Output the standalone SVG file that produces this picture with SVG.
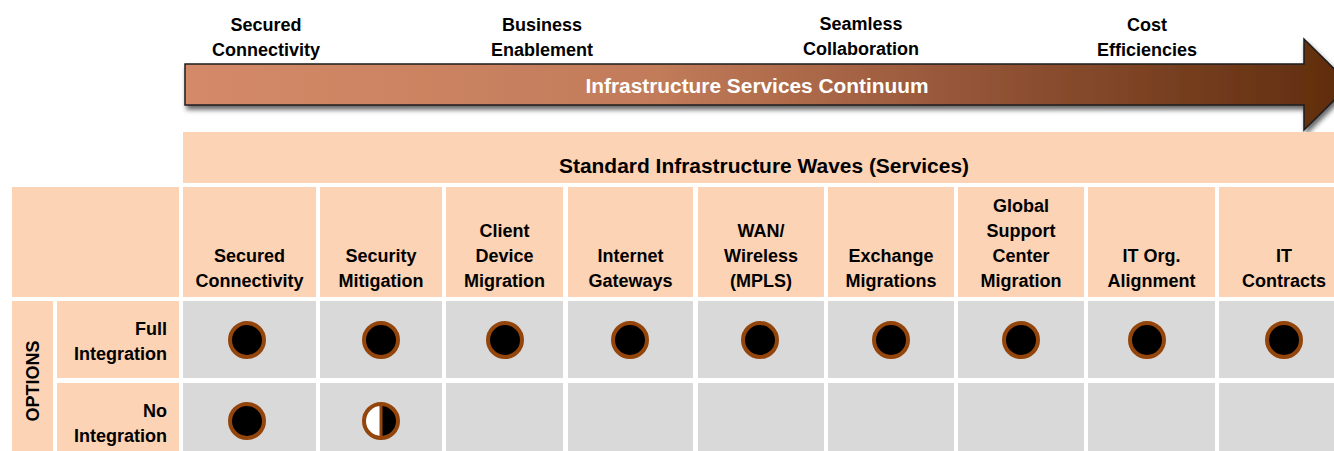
<svg xmlns="http://www.w3.org/2000/svg" width="1334" height="451" viewBox="0 0 1334 451">
  <style>
    text { font-family: "Liberation Sans", Arial, sans-serif; font-weight: bold; font-size: 18px; fill: #000; }
    .c { text-anchor: middle; }
    .r { text-anchor: end; }
    .w { fill: #fff; }
    .big { font-size: 20px; }
    .peach { fill: #FDD3B5; }
    .gray { fill: #D9D9D9; }
    .dot { fill: #000; stroke: #94450C; stroke-width: 4; }
  </style>
  <defs>
    <linearGradient id="arrowGrad" gradientUnits="userSpaceOnUse" x1="185" y1="0" x2="1350" y2="0">
      <stop offset="0" stop-color="#D48A68"/>
      <stop offset="0.4" stop-color="#C27C5A"/>
      <stop offset="0.65" stop-color="#98583A"/>
      <stop offset="1" stop-color="#5E2C0C"/>
    </linearGradient>
    <filter id="shadow" x="-5%" y="-30%" width="110%" height="160%">
      <feGaussianBlur in="SourceAlpha" stdDeviation="2.5"/>
      <feOffset dx="2" dy="4" result="b"/>
      <feComponentTransfer><feFuncA type="linear" slope="0.6"/></feComponentTransfer>
      <feMerge><feMergeNode/><feMergeNode in="SourceGraphic"/></feMerge>
    </filter>
  </defs>

  <!-- Continuum arrow -->
  <g id="continuum-arrow">
    <path d="M185,64 H1304 V39 L1350,84.5 L1304,130 V105 H185 Z" fill="url(#arrowGrad)" stroke="#1E1E1E" stroke-width="1.5" filter="url(#shadow)"/>
    <text class="c w big" x="757" y="93" textLength="343" lengthAdjust="spacingAndGlyphs">Infrastructure Services Continuum</text>
  </g>

  <!-- Top labels -->
  <g id="label-secured">
    <text class="c" x="266" y="31">Secured</text>
    <text class="c" x="266" y="56">Connectivity</text>
  </g>
  <g id="label-business">
    <text class="c" x="542" y="31">Business</text>
    <text class="c" x="542" y="56">Enablement</text>
  </g>
  <g id="label-seamless">
    <text class="c" x="861" y="30">Seamless</text>
    <text class="c" x="861" y="55">Collaboration</text>
  </g>
  <g id="label-cost">
    <text class="c" x="1147" y="31">Cost</text>
    <text class="c" x="1147" y="56">Efficiencies</text>
  </g>

  <!-- Header band -->
  <g id="waves-header">
    <rect class="peach" x="183" y="132" width="1151" height="51"/>
    <text class="c big" x="764" y="173" textLength="410" lengthAdjust="spacingAndGlyphs">Standard Infrastructure Waves (Services)</text>
  </g>

  <!-- Left header blank cell -->
  <g id="corner-cell">
    <rect class="peach" x="12" y="187" width="167" height="110"/>
  </g>

  <!-- Column headers -->
  <g id="col1">
    <rect class="peach" x="183" y="187" width="133" height="110"/>
    <text class="c" x="249.5" y="262">Secured</text>
    <text class="c" x="249.5" y="287">Connectivity</text>
  </g>
  <g id="col2">
    <rect class="peach" x="320" y="187" width="122" height="110"/>
    <text class="c" x="381" y="262">Security</text>
    <text class="c" x="381" y="287">Mitigation</text>
  </g>
  <g id="col3">
    <rect class="peach" x="446" y="187" width="117" height="110"/>
    <text class="c" x="504.5" y="237">Client</text>
    <text class="c" x="504.5" y="262">Device</text>
    <text class="c" x="504.5" y="287">Migration</text>
  </g>
  <g id="col4">
    <rect class="peach" x="568" y="187" width="125" height="110"/>
    <text class="c" x="630.5" y="262">Internet</text>
    <text class="c" x="630.5" y="287">Gateways</text>
  </g>
  <g id="col5">
    <rect class="peach" x="698" y="187" width="126" height="110"/>
    <text class="c" x="761" y="237">WAN/</text>
    <text class="c" x="761" y="262">Wireless</text>
    <text class="c" x="761" y="287">(MPLS)</text>
  </g>
  <g id="col6">
    <rect class="peach" x="828" y="187" width="126" height="110"/>
    <text class="c" x="891" y="262">Exchange</text>
    <text class="c" x="891" y="287">Migrations</text>
  </g>
  <g id="col7">
    <rect class="peach" x="958" y="187" width="126" height="110"/>
    <text class="c" x="1021" y="212">Global</text>
    <text class="c" x="1021" y="237">Support</text>
    <text class="c" x="1021" y="262">Center</text>
    <text class="c" x="1021" y="287">Migration</text>
  </g>
  <g id="col8">
    <rect class="peach" x="1088" y="187" width="127" height="110"/>
    <text class="c" x="1151.5" y="262">IT Org.</text>
    <text class="c" x="1151.5" y="287">Alignment</text>
  </g>
  <g id="col9">
    <rect class="peach" x="1219" y="187" width="130" height="110"/>
    <text class="c" x="1284" y="262">IT</text>
    <text class="c" x="1284" y="287">Contracts</text>
  </g>

  <!-- Options label -->
  <g id="options">
    <rect class="peach" x="12" y="301" width="41" height="150"/>
    <text class="c" transform="translate(39,381) rotate(-90)" x="0" y="0">OPTIONS</text>
  </g>

  <!-- Row labels -->
  <g id="row-full">
    <rect class="peach" x="57" y="301" width="122" height="77"/>
    <text class="r" x="167" y="335">Full</text>
    <text class="r" x="167" y="360">Integration</text>
  </g>
  <g id="row-no">
    <rect class="peach" x="57" y="383" width="122" height="68"/>
    <text class="r" x="167" y="417">No</text>
    <text class="r" x="167" y="442">Integration</text>
  </g>

  <!-- Grid cells -->
  <g id="cells">
    <rect class="gray" x="183" y="301" width="133" height="77"/>
    <rect class="gray" x="320" y="301" width="122" height="77"/>
    <rect class="gray" x="446" y="301" width="117" height="77"/>
    <rect class="gray" x="568" y="301" width="125" height="77"/>
    <rect class="gray" x="698" y="301" width="126" height="77"/>
    <rect class="gray" x="828" y="301" width="126" height="77"/>
    <rect class="gray" x="958" y="301" width="126" height="77"/>
    <rect class="gray" x="1088" y="301" width="127" height="77"/>
    <rect class="gray" x="1219" y="301" width="130" height="77"/>
    <rect class="gray" x="183" y="383" width="133" height="68"/>
    <rect class="gray" x="320" y="383" width="122" height="68"/>
    <rect class="gray" x="446" y="383" width="117" height="68"/>
    <rect class="gray" x="568" y="383" width="125" height="68"/>
    <rect class="gray" x="698" y="383" width="126" height="68"/>
    <rect class="gray" x="828" y="383" width="126" height="68"/>
    <rect class="gray" x="958" y="383" width="126" height="68"/>
    <rect class="gray" x="1088" y="383" width="127" height="68"/>
    <rect class="gray" x="1219" y="383" width="130" height="68"/>
  </g>

  <!-- Harvey balls -->
  <g id="full-integration-marks">
    <circle class="dot" cx="247" cy="340" r="17"/>
    <circle class="dot" cx="381" cy="340" r="17"/>
    <circle class="dot" cx="505" cy="340" r="17"/>
    <circle class="dot" cx="630" cy="340" r="17"/>
    <circle class="dot" cx="760" cy="340" r="17"/>
    <circle class="dot" cx="891" cy="340" r="17"/>
    <circle class="dot" cx="1021" cy="340" r="17"/>
    <circle class="dot" cx="1147" cy="340" r="17"/>
    <circle class="dot" cx="1284" cy="340" r="17"/>
  </g>
  <g id="no-integration-marks">
    <circle class="dot" cx="247" cy="421" r="17"/>
    <circle cx="381" cy="421" r="17" fill="#fff"/>
    <path d="M381,404 A17,17 0 0 1 381,438 Z" fill="#000"/>
    <line x1="381" y1="404" x2="381" y2="438" stroke="#94450C" stroke-width="3"/>
    <circle cx="381" cy="421" r="17" fill="none" stroke="#94450C" stroke-width="4"/>
  </g>
</svg>
